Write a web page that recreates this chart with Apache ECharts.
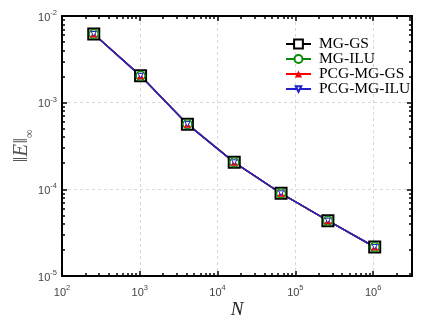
<!DOCTYPE html>
<html><head><meta charset="utf-8">
<script src="https://cdn.jsdelivr.net/npm/echarts@6/dist/echarts.min.js"></script>
<style>html,body{margin:0;padding:0;background:#fff}#c{width:432px;height:324px}</style>
</head><body><div id="c"></div>
<script>
// ---- data ----
const N = [256, 1024, 4096, 16384, 65536, 262144, 1048576];
const mgGS     = [6.2e-3, 2.04e-3, 5.65e-4, 2.05e-4, 9.0e-5, 4.35e-5, 2.16e-5];
const mgILU    = [6.2e-3, 2.04e-3, 5.65e-4, 2.05e-4, 9.0e-5, 4.35e-5, 2.16e-5];
const pcgMgGS  = [6.2e-3, 2.04e-3, 5.65e-4, 2.05e-4, 9.0e-5, 4.35e-5, 2.16e-5];
const pcgMgILU = [6.2e-3, 2.04e-3, 5.65e-4, 2.05e-4, 9.0e-5, 4.35e-5, 2.16e-5];
const seriesNames = ['MG-GS', 'MG-ILU', 'PCG-MG-GS', 'PCG-MG-ILU'];
const xExp = [2, 3, 4, 5, 6];        // x tick exponents
const yExp = [-5, -4, -3, -2];       // y tick exponents
const xRange = [2, 6.5];             // log10 extent of x axis
const yRange = [-5, -2];             // log10 extent of y axis

// ---- helpers ----
function minorLogs(lo, hi) {
  const out = [];
  for (let n = Math.floor(lo); n <= Math.ceil(hi); n++) {
    for (let k = 2; k <= 9; k++) {
      const v = n + Math.log10(k);
      if (v > lo + 1e-9 && v < hi - 1e-9) out.push(v);
    }
  }
  return out;
}
const xMinor = minorLogs(xRange[0], xRange[1]);
const yMinor = minorLogs(yRange[0], yRange[1]);

const labelRich = {
  b: { fontFamily: 'Liberation Sans', fontSize: 11, color: '#444', lineHeight: 14, verticalAlign: 'bottom' },
  e: { fontFamily: 'Liberation Sans', fontSize: 7.5, color: '#444', lineHeight: 14, verticalAlign: 'top', padding: [0, 0, 7, 0] }
};
function fmt(v) {
  const e = Math.log10(v);
  if (Math.abs(e - Math.round(e)) > 1e-6) return '';
  return '{b|10}{e|' + Math.round(e) + '}';
}

const lineStyleAxis = { color: '#000', width: 2 };
const tickStyle = { color: '#000', width: 1.5 };

function decoAxis(grid, pos, range, values, len, line) {
  return {
    gridIndex: grid, type: 'value', position: pos, min: range[0], max: range[1],
    axisLine: { show: !!line, onZero: false, lineStyle: lineStyleAxis },
    axisLabel: { show: false }, splitLine: { show: false },
    axisTick: { show: true, inside: true, length: len, lineStyle: tickStyle, customValues: values }
  };
}

const gridRect = { left: 62, right: 20, top: 16, bottom: 48, containLabel: false, outerBoundsMode: 'none' };
const chart = echarts.init(document.getElementById('c'), null, { renderer: 'canvas' });
const common = { type: 'line', showSymbol: true, z: 3, xAxisIndex: 0, yAxisIndex: 0 };
const legendSizes = [11, 10, 9, 7];
const legends = seriesNames.map((nm, i) => ({
  orient: 'vertical', left: 285, top: 36 + i * 15, padding: 0,
  itemWidth: 25, itemHeight: legendSizes[i],
  textStyle: { fontFamily: 'Liberation Serif', fontSize: 15.5, color: '#000', lineHeight: 15, padding: [0, 0, 0, 3] },
  data: [nm]
}));
chart.setOption({
  animation: false,
  grid: [Object.assign({}, gridRect), Object.assign({}, gridRect)],
  legend: legends,
  xAxis: [
    {
      gridIndex: 0,
      type: 'log', logBase: 10, min: Math.pow(10, xRange[0]), max: Math.pow(10, xRange[1]), position: 'bottom',
      name: 'N', nameLocation: 'middle', nameGap: 24, nameMoveOverlap: false,
      nameTextStyle: { fontFamily: 'Liberation Serif', fontStyle: 'italic', fontSize: 19, color: '#222' },
      axisLine: { show: true, lineStyle: lineStyleAxis },
      axisTick: { show: true, inside: true, length: 5, lineStyle: tickStyle },
      axisLabel: { formatter: fmt, rich: labelRich, margin: 8, showMaxLabel: false },
      splitLine: { show: true, lineStyle: { color: '#d8d8d8', type: [3, 3], width: 1 } }
    },
    decoAxis(0, 'top', xRange, xExp, 5, true),
    decoAxis(1, 'bottom', xRange, xMinor, 3),
    decoAxis(1, 'top', xRange, xMinor, 3)
  ],
  yAxis: [
    {
      gridIndex: 0,
      type: 'log', logBase: 10, min: Math.pow(10, yRange[0]), max: Math.pow(10, yRange[1]), position: 'left',
      name: '{n|‖}{e|E}{n|‖}{s|∞}', nameLocation: 'middle', nameGap: 26, nameRotate: 90, nameMoveOverlap: false,
      nameTextStyle: {
        rich: {
          n: { fontFamily: 'Liberation Serif', fontSize: 21, color: '#555', lineHeight: 26 },
          e: { fontFamily: 'Liberation Serif', fontStyle: 'italic', fontSize: 21, color: '#555', lineHeight: 26 },
          s: { fontFamily: 'Liberation Serif', fontSize: 12, color: '#555', verticalAlign: 'bottom', lineHeight: 30 }
        }
      },
      axisLine: { show: true, lineStyle: lineStyleAxis },
      axisTick: { show: true, inside: true, length: 5, lineStyle: tickStyle },
      axisLabel: { formatter: fmt, rich: labelRich, margin: 5 },
      splitLine: { show: true, lineStyle: { color: '#d8d8d8', type: [3, 3], width: 1 } }
    },
    decoAxis(0, 'right', yRange, yExp, 5, true),
    decoAxis(1, 'left', yRange, yMinor, 3),
    decoAxis(1, 'right', yRange, yMinor, 3)
  ],
  series: [
    Object.assign({}, common, {
      name: seriesNames[0], data: N.map((x, i) => [x, mgGS[i]]),
      symbol: 'rect', symbolSize: 11, itemStyle: { color: '#fff', borderColor: '#000', borderWidth: 2 },
      lineStyle: { color: '#000', width: 1.5 }
    }),
    Object.assign({}, common, {
      name: seriesNames[1], data: N.map((x, i) => [x, mgILU[i]]),
      symbol: 'circle', symbolSize: 9, itemStyle: { color: '#fff', borderColor: '#0a8a0a', borderWidth: 1.5 },
      lineStyle: { color: '#0a8a0a', width: 1.5 }
    }),
    Object.assign({}, common, {
      name: seriesNames[2], data: N.map((x, i) => [x, pcgMgGS[i]]),
      symbol: 'triangle', symbolSize: 7, itemStyle: { color: '#f00', borderColor: '#f00', borderWidth: 0 },
      lineStyle: { color: '#f00', width: 1.5 }
    }),
    Object.assign({}, common, {
      name: seriesNames[3], data: N.map((x, i) => [x, pcgMgILU[i]]),
      symbol: 'triangle', symbolRotate: 180, symbolSize: 5, itemStyle: { color: '#fff', borderColor: '#22c', borderWidth: 1 },
      lineStyle: { color: '#22c', width: 1.5 }
    })
  ]
});
</script></body></html>
